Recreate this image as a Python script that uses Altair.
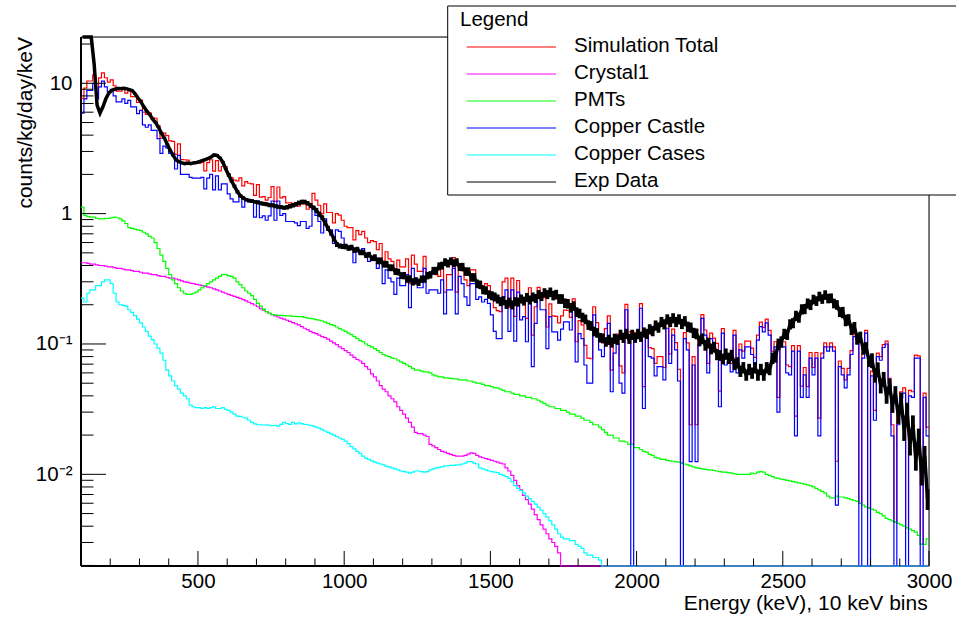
import altair as alt
import pandas as pd

# ---------------- histogram binning (from the axis title: 10 keV bins) ----------------
BIN_START = 100
BIN_END = 3000
BIN_WIDTH = 10

# ---------------- series values, one per 10 keV bin (100 ... 2990 keV) ----------------
sim_total = [
    7.67, 9.2, 10.41, 10.41, 11.61, 9.2, 10.99, 12.01, 11.03, 10.22,
    10.61, 9.57, 8.72, 8.69, 9.05, 8.41, 8.73, 7.91, 7.89, 7.12,
    7.44, 6.01, 5.78, 5.93, 5.45, 5.39, 4.73, 3.80, 4.14, 3.97,
    3.62, 3.58, 2.85, 3.43, 2.60, 2.59, 2.57, 2.46, 2.43, 2.43,
    2.44, 2.48, 2.13, 2.46, 2.59, 2.12, 2.55, 2.13, 2.30, 2.30,
    2.02, 1.89, 1.81, 1.78, 1.88, 1.63, 1.76, 1.71, 1.69, 1.38,
    1.67, 1.34, 1.35, 1.27, 1.33, 1.61, 1.24, 1.60, 1.32, 1.35,
    1.21, 1.21, 1.20, 1.18, 1.14, 1.19, 1.19, 1.08, 1.11, 1.43,
    1.27, 1.16, 1.00, 1.19, 1.02, 1.02, 0.85, 1.00, 0.975, 0.89,
    0.80, 0.78, 0.78, 0.63, 0.74, 0.69, 0.73, 0.65, 0.60, 0.62,
    0.61, 0.53, 0.59, 0.43, 0.51, 0.45, 0.43, 0.36, 0.44, 0.39,
    0.39, 0.45, 0.29, 0.48, 0.41, 0.36, 0.36, 0.47, 0.34, 0.35,
    0.35, 0.34, 0.33, 0.39, 0.25, 0.34, 0.34, 0.46, 0.25, 0.41,
    0.37, 0.31, 0.28, 0.37, 0.37, 0.30, 0.30, 0.28, 0.29, 0.28,
    0.24, 0.19, 0.18, 0.177, 0.30, 0.32, 0.19, 0.32, 0.163, 0.307,
    0.208, 0.216, 0.157, 0.27, 0.117, 0.193, 0.272, 0.229, 0.227, 0.135,
    0.203, 0.164, 0.163, 0.145, 0.164, 0.182, 0.181, 0.160, 0.222, 0.104,
    0.151, 0.140, 0.0975, 0.078, 0.077, 0.193, 0.146, 0.115, 0.102, 0.131,
    0.164, 0.063, 0.104, 0.119, 0.068, 0.060, 0.201, 0.124, 0.017, 0.123,
    0.126, 0.204, 0.047, 0.129, 0.094, 0.092, 0.071, 0.080, 0.080, 0.066,
    0.145, 0.084, 0.130, 0.1025, 0.064, 0.0122, 0.122, 0.102, 0.024, 0.080,
    0.024, 0.111, 0.168, 0.128, 0.071, 0.121, 0.111, 0.101, 0.0435, 0.131,
    0.079, 0.083, 0.071, 0.127, 0.070, 0.100, 0.088, 0.105, 0.105, 0.093,
    0.079, 0.117, 0.147, 0.134, 0.155, 0.127, 0.088, 0.104, 0.039, 0.104,
    0.104, 0.069, 0.067, 0.097, 0.028, 0.097, 0.0475, 0.066, 0.047, 0.086,
    0.066, 0.086, 0.027, 0.085, 0.102, 0.095, 0.102, 0.095, 0.0126, 0.074,
    0.065, 0.053, 0.065, 0.089, 0.120, 0.106, 0.006, 0.084, 0.127, 0.0055,
    0.062, 0.031, 0.085, 0.080, 0.099, 0.105, 0.0545, 0.024, 0.0043, 0.028,
    0.043, 0.046, 0.0039, 0.044, 0.043, 0.082, 0.081, 0.0029, 0.042, 0.023,
]

crystal1 = [
    0.42, 0.42, 0.415, 0.41, 0.41, 0.405, 0.40, 0.40, 0.395, 0.39,
    0.39, 0.385, 0.38, 0.38, 0.375, 0.37, 0.37, 0.365, 0.36, 0.36,
    0.355, 0.35, 0.35, 0.345, 0.34, 0.34, 0.335, 0.33, 0.33, 0.325,
    0.32, 0.32, 0.315, 0.31, 0.305, 0.30, 0.297, 0.293, 0.29, 0.287,
    0.284, 0.28, 0.277, 0.273, 0.27, 0.265, 0.26, 0.255, 0.25, 0.245,
    0.24, 0.236, 0.232, 0.228, 0.224, 0.219, 0.214, 0.209, 0.204, 0.199,
    0.193, 0.187, 0.182, 0.177, 0.172, 0.168, 0.164, 0.161, 0.158, 0.155,
    0.152, 0.149, 0.146, 0.143, 0.140, 0.136, 0.132, 0.129, 0.125, 0.122,
    0.120, 0.117, 0.114, 0.112, 0.109, 0.105, 0.102, 0.099, 0.095, 0.092,
    0.089, 0.086, 0.082, 0.079, 0.076, 0.074, 0.071, 0.067, 0.064, 0.059,
    0.056, 0.052, 0.048, 0.045, 0.043, 0.040, 0.038, 0.036, 0.033, 0.031,
    0.029, 0.027, 0.025, 0.023, 0.021, 0.0205, 0.0205, 0.020, 0.0195, 0.017,
    0.0165, 0.016, 0.0155, 0.015, 0.0148, 0.0145, 0.0142, 0.0140, 0.0138, 0.0138,
    0.0138, 0.0140, 0.0143, 0.0146, 0.0145, 0.0140, 0.0136, 0.0134, 0.0132, 0.0130,
    0.0128, 0.0126, 0.0124, 0.0122, 0.0120, 0.0112, 0.0106, 0.0098, 0.0090, 0.0082,
    0.0076, 0.0069, 0.0064, 0.0059, 0.0054, 0.0049, 0.0045, 0.0041, 0.0038, 0.0035,
    0.0032, 0.0030, 0.0028, 0.0025, 0, 0, 0, 0, 0, 0,
    0, 0, 0, 0, 0, 0, 0, 0, 0, 0,
    0, 0, 0, 0, 0, 0, 0, 0, 0, 0,
    0, 0, 0, 0, 0, 0, 0, 0, 0, 0,
    0, 0, 0, 0, 0, 0, 0, 0, 0, 0,
    0, 0, 0, 0, 0, 0, 0, 0, 0, 0,
    0, 0, 0, 0, 0, 0, 0, 0, 0, 0,
    0, 0, 0, 0, 0, 0, 0, 0, 0, 0,
    0, 0, 0, 0, 0, 0, 0, 0, 0, 0,
    0, 0, 0, 0, 0, 0, 0, 0, 0, 0,
    0, 0, 0, 0, 0, 0, 0, 0, 0, 0,
    0, 0, 0, 0, 0, 0, 0, 0, 0, 0,
    0, 0, 0, 0, 0, 0, 0, 0, 0, 0,
]

pmts = [
    1.12, 0.97, 0.95, 0.94, 0.94, 0.92, 0.91, 0.91, 0.92, 0.92,
    0.93, 0.94, 0.93, 0.91, 0.88, 0.84, 0.78, 0.77, 0.76, 0.75,
    0.74, 0.72, 0.70, 0.67, 0.65, 0.60, 0.54, 0.48, 0.43, 0.38,
    0.34, 0.31, 0.29, 0.27, 0.255, 0.245, 0.24, 0.24, 0.245, 0.25,
    0.26, 0.27, 0.28, 0.29, 0.30, 0.31, 0.32, 0.33, 0.34, 0.34,
    0.335, 0.33, 0.32, 0.30, 0.285, 0.27, 0.255, 0.245, 0.235, 0.22,
    0.205, 0.195, 0.185, 0.177, 0.172, 0.168, 0.167, 0.166, 0.166, 0.165,
    0.164, 0.164, 0.163, 0.163, 0.162, 0.162, 0.160, 0.158, 0.157, 0.156,
    0.154, 0.152, 0.150, 0.147, 0.144, 0.141, 0.139, 0.135, 0.131, 0.128,
    0.125, 0.121, 0.118, 0.114, 0.110, 0.106, 0.104, 0.100, 0.097, 0.095,
    0.092, 0.089, 0.086, 0.083, 0.081, 0.080, 0.078, 0.077, 0.075, 0.073,
    0.071, 0.069, 0.067, 0.065, 0.063, 0.063, 0.062, 0.061, 0.061, 0.060,
    0.058, 0.057, 0.056, 0.056, 0.055, 0.055, 0.0545, 0.054, 0.054, 0.053,
    0.053, 0.053, 0.052, 0.052, 0.051, 0.050, 0.050, 0.049, 0.048, 0.048,
    0.047, 0.046, 0.046, 0.045, 0.044, 0.043, 0.043, 0.042, 0.041, 0.041,
    0.040, 0.040, 0.039, 0.039, 0.038, 0.038, 0.037, 0.036, 0.035, 0.034,
    0.033, 0.033, 0.032, 0.032, 0.031, 0.031, 0.030, 0.029, 0.029, 0.028,
    0.028, 0.027, 0.026, 0.026, 0.025, 0.024, 0.024, 0.023, 0.022, 0.021,
    0.020, 0.020, 0.019, 0.019, 0.018, 0.018, 0.0177, 0.017, 0.017, 0.016,
    0.016, 0.0155, 0.015, 0.0148, 0.0142, 0.014, 0.0135, 0.0133, 0.013, 0.013,
    0.0128, 0.0127, 0.0126, 0.0125, 0.0124, 0.0122, 0.0120, 0.0118, 0.0116, 0.0114,
    0.0112, 0.0111, 0.0110, 0.0109, 0.0108, 0.0108, 0.0107, 0.0106, 0.0105, 0.0104,
    0.0104, 0.0103, 0.0102, 0.0101, 0.0100, 0.0100, 0.0100, 0.0100, 0.0100, 0.0102,
    0.0101, 0.0104, 0.0105, 0.0104, 0.0100, 0.0098, 0.0096, 0.0094, 0.0093, 0.0092,
    0.0091, 0.0090, 0.0089, 0.0088, 0.0087, 0.0086, 0.0085, 0.0084, 0.0083, 0.0082,
    0.0080, 0.0078, 0.0076, 0.0074, 0.0072, 0.0068, 0.0066, 0.0066, 0.0068, 0.0067,
    0.0067, 0.0066, 0.0065, 0.0064, 0.0063, 0.0062, 0.0060, 0.0058, 0.0056, 0.0055,
    0.0054, 0.0053, 0.0051, 0.0050, 0.0048, 0.0046, 0.0045, 0.0044, 0.0043, 0.0042,
    0.0041, 0.0040, 0.0039, 0.0038, 0.0037, 0.0036, 0.0034, 0.0029, 0.0029, 0.0032,
]

copper_castle = [
    5.9, 7.6, 8.8, 8.8, 10.0, 7.6, 9.4, 10.4, 9.4, 8.6,
    9.0, 8.0, 7.2, 7.2, 7.6, 7.0, 7.4, 6.6, 6.6, 5.85,
    6.2, 4.8, 4.6, 4.8, 4.35, 4.35, 3.76, 2.9, 3.3, 3.2,
    2.9, 2.9, 2.2, 2.8, 2.0, 2.0, 2.0, 1.9, 1.87, 1.87,
    1.87, 1.9, 1.55, 1.87, 2.0, 1.52, 1.95, 1.52, 1.69, 1.69,
    1.42, 1.3, 1.23, 1.23, 1.35, 1.12, 1.27, 1.23, 1.23, 0.94,
    1.25, 0.93, 0.96, 0.89, 0.96, 1.25, 0.89, 1.25, 0.97, 1.0,
    0.87, 0.87, 0.87, 0.85, 0.81, 0.87, 0.87, 0.77, 0.80, 1.13,
    0.97, 0.87, 0.71, 0.91, 0.75, 0.75, 0.59, 0.75, 0.73, 0.65,
    0.57, 0.56, 0.56, 0.42, 0.54, 0.50, 0.54, 0.47, 0.43, 0.45,
    0.45, 0.38, 0.44, 0.29, 0.37, 0.32, 0.30, 0.24, 0.32, 0.28,
    0.28, 0.34, 0.19, 0.38, 0.32, 0.27, 0.27, 0.38, 0.245, 0.26,
    0.26, 0.26, 0.245, 0.31, 0.17, 0.26, 0.26, 0.38, 0.17, 0.33,
    0.29, 0.23, 0.198, 0.29, 0.29, 0.22, 0.23, 0.21, 0.22, 0.205,
    0.167, 0.125, 0.11, 0.11, 0.23, 0.26, 0.125, 0.26, 0.105, 0.25,
    0.153, 0.162, 0.104, 0.218, 0.067, 0.144, 0.224, 0.183, 0.183, 0.092,
    0.162, 0.124, 0.124, 0.107, 0.13, 0.148, 0.148, 0.128, 0.19, 0.073,
    0.12, 0.11, 0.069, 0.05, 0.05, 0.167, 0.12, 0.09, 0.08, 0.11,
    0.144, 0.043, 0.085, 0.1, 0.05, 0.042, 0.183, 0.107, 0, 0.107,
    0.11, 0.188, 0.032, 0.114, 0.08, 0.078, 0.057, 0.067, 0.067, 0.053,
    0.132, 0.071, 0.117, 0.09, 0.052, 0, 0.11, 0.09, 0.0125, 0.069,
    0.0125, 0.1, 0.157, 0.117, 0.06, 0.11, 0.1, 0.09, 0.033, 0.121,
    0.069, 0.073, 0.061, 0.117, 0.06, 0.09, 0.078, 0.095, 0.095, 0.083,
    0.069, 0.107, 0.136, 0.124, 0.145, 0.117, 0.078, 0.095, 0.03, 0.095,
    0.095, 0.06, 0.058, 0.088, 0.0197, 0.088, 0.039, 0.058, 0.039, 0.078,
    0.058, 0.078, 0.0197, 0.078, 0.095, 0.088, 0.095, 0.088, 0.0058, 0.067,
    0.058, 0.046, 0.058, 0.083, 0.114, 0.1, 0, 0.078, 0.121, 0,
    0.057, 0.026, 0.08, 0.075, 0.094, 0.1, 0.05, 0.0197, 0, 0.024,
    0.039, 0.042, 0, 0.04, 0.039, 0.078, 0.078, 0, 0.039, 0.0197,
]

copper_cases = [
    0.225, 0.21, 0.245, 0.26, 0.26, 0.28, 0.28, 0.30, 0.31, 0.31,
    0.29, 0.245, 0.21, 0.20, 0.198, 0.195, 0.183, 0.175, 0.165, 0.155,
    0.145, 0.135, 0.125, 0.115, 0.108, 0.100, 0.093, 0.085, 0.075, 0.063,
    0.057, 0.052, 0.048, 0.045, 0.042, 0.040, 0.038, 0.034, 0.033, 0.0325,
    0.0325, 0.032, 0.0325, 0.032, 0.0325, 0.033, 0.032, 0.032, 0.0325, 0.0315,
    0.031, 0.030, 0.029, 0.028, 0.0278, 0.0274, 0.027, 0.026, 0.025, 0.0244,
    0.024, 0.024, 0.0238, 0.024, 0.0238, 0.0236, 0.0238, 0.0234, 0.0242, 0.025,
    0.0245, 0.0242, 0.025, 0.0244, 0.0248, 0.0245, 0.0242, 0.024, 0.0238, 0.0234,
    0.023, 0.0226, 0.022, 0.0215, 0.021, 0.0204, 0.020, 0.0195, 0.019, 0.0186,
    0.018, 0.0172, 0.0163, 0.0157, 0.015, 0.0145, 0.0138, 0.0133, 0.013, 0.0127,
    0.0124, 0.0122, 0.012, 0.0118, 0.0115, 0.0114, 0.0112, 0.011, 0.0108, 0.0106,
    0.0105, 0.0104, 0.0102, 0.0104, 0.0106, 0.0106, 0.0105, 0.0104, 0.0105, 0.0108,
    0.011, 0.0112, 0.0113, 0.0114, 0.0116, 0.0116, 0.0117, 0.0117, 0.0118, 0.0118,
    0.012, 0.0122, 0.0125, 0.0125, 0.0122, 0.012, 0.0112, 0.011, 0.0108, 0.0106,
    0.0105, 0.0104, 0.0103, 0.010, 0.0098, 0.0096, 0.0093, 0.0088, 0.0082, 0.0078,
    0.0075, 0.0072, 0.0068, 0.0065, 0.0062, 0.0059, 0.0056, 0.0053, 0.0050, 0.0047,
    0.0044, 0.0041, 0.0038, 0.0035, 0.0033, 0.0032, 0.0032, 0.0031, 0.0031, 0.0029,
    0.0028, 0.0027, 0.0025, 0.0024, 0.0024, 0.0023, 0.0023, 0.0022, 0, 0,
    0, 0, 0, 0, 0, 0, 0, 0, 0, 0,
    0, 0, 0, 0, 0, 0, 0, 0, 0, 0,
    0, 0, 0, 0, 0, 0, 0, 0, 0, 0,
    0, 0, 0, 0, 0, 0, 0, 0, 0, 0,
    0, 0, 0, 0, 0, 0, 0, 0, 0, 0,
    0, 0, 0, 0, 0, 0, 0, 0, 0, 0,
    0, 0, 0, 0, 0, 0, 0, 0, 0, 0,
    0, 0, 0, 0, 0, 0, 0, 0, 0, 0,
    0, 0, 0, 0, 0, 0, 0, 0, 0, 0,
    0, 0, 0, 0, 0, 0, 0, 0, 0, 0,
    0, 0, 0, 0, 0, 0, 0, 0, 0, 0,
]

exp_data = [
    40, 40, 40, 40, 14, 6.8, 5.9, 6.6, 7.6, 8.4,
    8.8, 9.0, 9.1, 9.1, 9.15, 9.1, 8.95, 8.8, 8.3, 7.7,
    7.2, 6.6, 6.1, 5.75, 5.3, 5.0, 4.6, 4.15, 3.8, 3.4,
    3.06, 2.8, 2.58, 2.5, 2.45, 2.42, 2.44, 2.42, 2.45, 2.47,
    2.5, 2.55, 2.6, 2.65, 2.72, 2.82, 2.8, 2.68, 2.48, 2.2,
    1.98, 1.78, 1.62, 1.47, 1.37, 1.32, 1.28, 1.26, 1.25, 1.23,
    1.22, 1.2, 1.19, 1.18, 1.16, 1.16, 1.14, 1.13, 1.12, 1.11,
    1.12, 1.14, 1.16, 1.18, 1.21, 1.23, 1.23, 1.2, 1.16, 1.11,
    1.06, 0.99, 0.93, 0.85, 0.77, 0.71, 0.64, 0.58, 0.565, 0.56,
    0.56, 0.545, 0.55, 0.525, 0.53, 0.505, 0.505, 0.48, 0.485, 0.455,
    0.46, 0.435, 0.435, 0.41, 0.41, 0.385, 0.385, 0.36, 0.357, 0.335,
    0.335, 0.315, 0.316, 0.3, 0.305, 0.298, 0.315, 0.315, 0.335, 0.34,
    0.365, 0.365, 0.395, 0.4, 0.425, 0.415, 0.432, 0.418, 0.425, 0.39,
    0.39, 0.36, 0.36, 0.325, 0.325, 0.29, 0.285, 0.26, 0.258, 0.24,
    0.235, 0.23, 0.222, 0.212, 0.215, 0.202, 0.21, 0.2, 0.212, 0.21,
    0.222, 0.214, 0.228, 0.218, 0.23, 0.224, 0.24, 0.232, 0.248, 0.24,
    0.25, 0.236, 0.24, 0.222, 0.222, 0.206, 0.204, 0.19, 0.196, 0.176,
    0.172, 0.16, 0.155, 0.14, 0.138, 0.125, 0.122, 0.112, 0.111, 0.104,
    0.108, 0.103, 0.11, 0.108, 0.118, 0.112, 0.12, 0.11, 0.118, 0.112,
    0.12, 0.114, 0.123, 0.12, 0.13, 0.126, 0.139, 0.134, 0.148, 0.142,
    0.155, 0.148, 0.158, 0.148, 0.155, 0.143, 0.15, 0.136, 0.134, 0.122,
    0.12, 0.106, 0.11, 0.098, 0.102, 0.092, 0.095, 0.083, 0.082, 0.077,
    0.084, 0.078, 0.082, 0.07, 0.072, 0.062, 0.066, 0.058, 0.064, 0.06,
    0.066, 0.058, 0.064, 0.058, 0.066, 0.064, 0.078, 0.08, 0.1, 0.104,
    0.12, 0.118, 0.142, 0.145, 0.165, 0.16, 0.185, 0.186, 0.205, 0.2,
    0.22, 0.214, 0.232, 0.222, 0.238, 0.224, 0.225, 0.205, 0.2, 0.176,
    0.175, 0.152, 0.154, 0.13, 0.134, 0.11, 0.113, 0.092, 0.094, 0.074,
    0.075, 0.058, 0.064, 0.048, 0.054, 0.04, 0.048, 0.034, 0.042, 0.028,
    0.036, 0.022, 0.03, 0.017, 0.024, 0.013, 0.019, 0.01, 0.014, 0.0065,
]

# relative statistical error of Exp Data, one value per 100 keV stretch (100-199, ..., 2900-2999)
exp_rel_err = [
    0.0, 0.005, 0.015, 0.02, 0.02, 0.03, 0.035, 0.04, 0.045, 0.05,
    0.06, 0.065, 0.07, 0.075, 0.08, 0.08, 0.085, 0.085, 0.09, 0.09,
    0.09, 0.095, 0.1, 0.1, 0.09, 0.085, 0.1, 0.13, 0.18,
]

series_names = ["Simulation Total", "Crystal1", "PMTs", "Copper Castle", "Copper Cases", "Exp Data"]
series_colors = ["#ff0000", "#ff00ff", "#00ff00", "#0000ff", "#00ffff", "#000000"]
series_values = [sim_total, crystal1, pmts, copper_castle, copper_cases, exp_data]

# ---------------- axis ticks / labels / texts ----------------
x_major_ticks = [500, 1000, 1500, 2000, 2500, 3000]
x_minor_ticks = [200, 300, 400, 600, 700, 800, 900, 1100, 1200, 1300, 1400,
                 1600, 1700, 1800, 1900, 2100, 2200, 2300, 2400,
                 2600, 2700, 2800, 2900]
y_major_ticks = [0.01, 0.1, 1, 10]
y_major_labels = ["10\u207b\u00b2", "10\u207b\u00b9", "1", "10"]
y_minor_ticks = [0.002, 0.003, 0.004, 0.005, 0.006, 0.007, 0.008, 0.009,
                 0.02, 0.03, 0.04, 0.05, 0.06, 0.07, 0.08, 0.09,
                 0.2, 0.3, 0.4, 0.5, 0.6, 0.7, 0.8, 0.9,
                 2, 3, 4, 5, 6, 7, 8, 9, 20]
x_title = "Energy (keV), 10 keV bins"
y_title = "counts/kg/day/keV"
legend_title = "Legend"

# ---------------- build the histogram table ----------------
n_bins = (BIN_END - BIN_START) // BIN_WIDTH
edges = [BIN_START + BIN_WIDTH * i for i in range(n_bins + 1)]
rows = []
for name, vals in zip(series_names, series_values):
    assert len(vals) == n_bins, (name, len(vals))
    if name == "Exp Data":
        for i, v in enumerate(vals):
            rows.append({"series": name, "E": edges[i] + BIN_WIDTH / 2, "v": v,
                         "e": exp_rel_err[(edges[i] - BIN_START) // 100]})
    else:
        for i, v in enumerate(vals):
            rows.append({"series": name, "E": edges[i], "v": v, "e": 0.0})
        rows.append({"series": name, "E": edges[-1], "v": vals[-1], "e": 0.0})
hist = pd.DataFrame(rows)

# ---------------- layout / style ----------------
W, H = 848, 529
FONT = "Liberation Sans"
FS = 20.5

xs = alt.Scale(domain=[BIN_START, BIN_END], nice=False, zero=False)
ys = alt.Scale(type="log", domain=[0.00198, 22.65], nice=False, clamp=True)

label_expr = ""
for val, lab in zip(y_major_ticks, y_major_labels):
    label_expr += f"abs(datum.value - {val}) < {val * 0.01} ? '{lab}' : "
label_expr += "''"

xaxis = alt.Axis(values=x_major_ticks, format="d", title=None, ticks=False, tickSize=0,
                 domain=False, grid=False, labelFont=FONT, labelFontSize=FS,
                 labelColor="black", labelPadding=21, labelBaseline="alphabetic",
                 labelFlush=False, labelOverlap=False, labelAlign="center")
yaxis = alt.Axis(values=y_major_ticks, labelExpr=label_expr, title=None, ticks=False,
                 tickSize=0, domain=False, grid=False, labelFont=FONT, labelFontSize=FS,
                 labelColor="black", labelPadding=9, labelBaseline="middle",
                 labelFlush=False, labelOverlap=False, labelAlign="right")

one = pd.DataFrame({"k": [0]})
layers = []

# frame (under the legend box)
layers.append(alt.Chart(one).mark_rule(color="black", strokeWidth=1).encode(
    x=alt.value(0), x2=alt.value(W), y=alt.value(0)))
layers.append(alt.Chart(one).mark_rule(color="black", strokeWidth=1).encode(
    x=alt.value(W), y=alt.value(0), y2=alt.value(H)))
layers.append(alt.Chart(one).mark_rule(color="black", strokeWidth=2).encode(
    x=alt.value(0), y=alt.value(0), y2=alt.value(H)))
layers.append(alt.Chart(one).mark_rule(color="black", strokeWidth=2).encode(
    x=alt.value(0), x2=alt.value(W), y=alt.value(H)))

# histograms
for name, color in zip(series_names, series_colors):
    is_exp = name == "Exp Data"
    base = alt.Chart(hist).transform_filter(alt.datum.series == name)
    if is_exp:
        layers.append(
            base.transform_calculate(lo="max(datum.v * (1 - datum.e), 1e-6)",
                                     hi="max(datum.v * (1 + datum.e), 1e-6)")
            .mark_rule(color=color, strokeWidth=3.8)
            .encode(x=alt.X("E:Q", scale=xs, axis=xaxis),
                    y=alt.Y("lo:Q", scale=ys, axis=yaxis), y2="hi:Q")
        )
    layers.append(
        base.transform_calculate(vy="max(datum.v, 1e-6)")
        .mark_line(color=color, strokeWidth=3.5 if is_exp else 1.2,
                   interpolate="linear" if is_exp else "step-after")
        .encode(x=alt.X("E:Q", scale=xs, axis=xaxis),
                y=alt.Y("vy:Q", scale=ys, axis=yaxis))
    )

# ticks drawn inside the frame
layers.append(alt.Chart(pd.DataFrame({"t": x_minor_ticks})).mark_rule(color="black", strokeWidth=1).encode(
    x=alt.X("t:Q", scale=xs, axis=xaxis), y=alt.value(H), y2=alt.value(H - 7.5)))
layers.append(alt.Chart(pd.DataFrame({"t": x_major_ticks})).mark_rule(color="black", strokeWidth=1).encode(
    x=alt.X("t:Q", scale=xs, axis=xaxis), y=alt.value(H), y2=alt.value(H - 15)))
layers.append(alt.Chart(pd.DataFrame({"t": y_minor_ticks})).mark_rule(color="black", strokeWidth=1).encode(
    y=alt.Y("t:Q", scale=ys, axis=yaxis), x=alt.value(0), x2=alt.value(12.5)))
layers.append(alt.Chart(pd.DataFrame({"t": y_major_ticks})).mark_rule(color="black", strokeWidth=1).encode(
    y=alt.Y("t:Q", scale=ys, axis=yaxis), x=alt.value(0), x2=alt.value(25)))

# legend box
layers.append(alt.Chart(one).mark_rect(fill="white", stroke="black", strokeWidth=1).encode(
    x=alt.value(366.7), x2=alt.value(890), y=alt.value(-31), y2=alt.value(158)))
layers.append(alt.Chart(one).mark_text(text=legend_title, font=FONT, fontSize=FS, align="left",
                                       baseline="alphabetic", color="black").encode(
    x=alt.value(379), y=alt.value(-11)))
for i, (name, color) in enumerate(zip(series_names, series_colors)):
    layers.append(alt.Chart(one).mark_rule(color=color, strokeWidth=1.2).encode(
        x=alt.value(385.7), x2=alt.value(475), y=alt.value(10 + 27 * i)))
    layers.append(alt.Chart(one).mark_text(text=name, font=FONT, fontSize=FS, align="left",
                                           baseline="alphabetic", color="black").encode(
        x=alt.value(493), y=alt.value(14.5 + 27 * i)))

# axis titles
layers.append(alt.Chart(one).mark_text(text=y_title, font=FONT, fontSize=21, angle=270,
                                       align="right", baseline="alphabetic", color="black").encode(
    x=alt.value(-49.5), y=alt.value(0)))
layers.append(alt.Chart(one).mark_text(text=x_title, font=FONT, fontSize=21, align="right",
                                       baseline="alphabetic", color="black").encode(
    x=alt.value(846.7), y=alt.value(573)))

chart = (
    alt.layer(*layers)
    .properties(width=W, height=H,
                padding={"left": 81, "top": 37, "right": 27, "bottom": 55},
                autosize=alt.AutoSizeParams(type="none"))
    .configure_view(strokeWidth=0)
    .configure(background="white")
)

chart.save("out.html", embed_options={"renderer": "svg", "actions": False})
